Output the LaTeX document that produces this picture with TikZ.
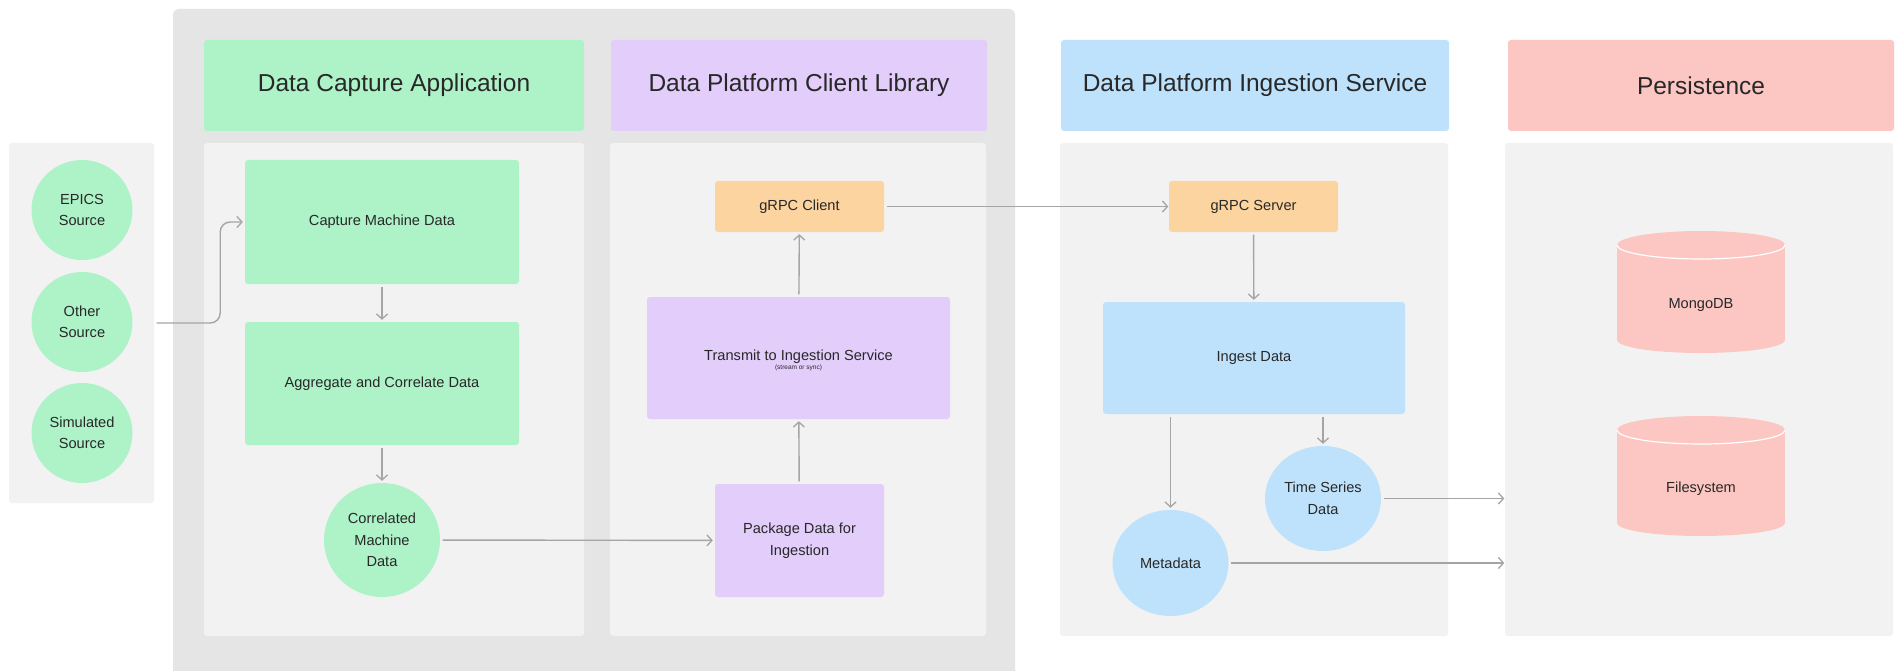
\documentclass[tikz,border=0pt]{standalone}
\usepackage{fontspec}
\setmainfont{Liberation Sans}
\usetikzlibrary{arrows.meta,shapes.geometric}

\definecolor{cgreen}{RGB}{174,242,200}
\definecolor{cpurple}{RGB}{226,205,251}
\definecolor{cblue}{RGB}{190,226,251}
\definecolor{cred}{RGB}{252,199,194}
\definecolor{corange}{RGB}{252,212,160}
\definecolor{panelgray}{RGB}{242,242,242}
\definecolor{outergray}{RGB}{229,229,229}
\definecolor{txt}{RGB}{40,40,40}
\definecolor{linegray}{RGB}{165,165,165}

\tikzset{
  hdr/.style={rectangle, rounded corners=3pt, inner sep=0pt, minimum height=91pt,
    text=txt, font=\fontsize{24.5}{29}\selectfont},
  lane/.style={rectangle, rounded corners=3pt, inner sep=0pt, fill=panelgray,
    minimum height=493pt},
  box/.style={rectangle, rounded corners=3pt, inner sep=0pt, text=txt,
    align=center, font=\fontsize{14.6}{21.5}\selectfont},
  disc/.style={ellipse, inner sep=0pt, text=txt, align=center,
    font=\fontsize{14.6}{21.5}\selectfont},
  dblabel/.style={inner sep=0pt, text=txt, font=\fontsize{14.6}{21.5}\selectfont},
  conn/.style={draw=linegray, line width=1.4pt,
    -{Straight Barb[length=5pt,width=11pt,line width=1.3pt]},
    shorten <=2.5pt, shorten >=2pt},
}

\begin{document}
\begin{tikzpicture}[x=1pt,y=-1pt]
\useasboundingbox (0,0) rectangle (1900,671);
\fill[white] (0,0) rectangle (1900,671);

% grey frame holding the capture application and the client library
\begin{scope}
  \clip (0,0) rectangle (1900,671);
  \fill[outergray, rounded corners=6pt] (173,9) rectangle (1015,690);
\end{scope}

% source panel with the three inputs
\node[lane, fill=panelgray, minimum width=145pt, minimum height=360pt] (src) at (81.5,323) {};
\node[disc, fill=cgreen, minimum width=101pt, minimum height=100pt] (epics) at (82,210) {EPICS\\Source};
\node[disc, fill=cgreen, minimum width=101pt, minimum height=100pt] (other) at (82,322) {Other\\Source};
\node[disc, fill=cgreen, minimum width=101pt, minimum height=100pt] (sim) at (82,433) {Simulated\\Source};

% column headers
\node[hdr, fill=cgreen, minimum width=380pt] (hcap) at (394,85.5) {Data Capture Application};
\node[hdr, fill=cpurple, minimum width=376pt] (hcli) at (799,85.5) {Data Platform Client Library};
\node[hdr, fill=cblue, minimum width=388pt] (hing) at (1255,85.5) {Data Platform Ingestion Service};
\node[hdr, fill=cred, minimum width=386pt] (hper) at (1701,85.5) {Persistence};

% column bodies
\node[lane, minimum width=380pt] (lcap) at (394,389.5) {};
\node[lane, minimum width=376pt] (lcli) at (798,389.5) {};
\node[lane, minimum width=388pt] (ling) at (1254,389.5) {};
\node[lane, minimum width=388pt] (lper) at (1699,389.5) {};

% data capture application
\node[box, fill=cgreen, minimum width=274pt, minimum height=124pt] (capture) at (382,222) {Capture Machine Data};
\node[box, fill=cgreen, minimum width=274pt, minimum height=123pt] (aggr) at (382,383.5) {Aggregate and Correlate Data};
\node[disc, fill=cgreen, minimum width=116pt, minimum height=114pt] (corr) at (382,540) {Correlated\\Machine\\Data};

% client library
\node[box, fill=corange, minimum width=169pt, minimum height=51pt] (client) at (799.5,206.5) {gRPC Client};
\node[box, fill=cpurple, minimum width=303pt, minimum height=122pt] (transmit) at (798.5,358) {};
\node[box, anchor=base] (transmittxt) at (798.5,360) {Transmit to Ingestion Service};
\node[inner sep=0pt, text=txt, font=\fontsize{6.5}{7}\selectfont] (transmitnote) at (798.5,368) {(stream or sync)};
\node[box, fill=cpurple, minimum width=169pt, minimum height=113pt] (package) at (799.5,540.5) {Package Data for\\Ingestion};

% ingestion service
\node[box, fill=corange, minimum width=169pt, minimum height=51pt] (server) at (1253.5,206.5) {gRPC Server};
\node[box, fill=cblue, minimum width=302pt, minimum height=112pt] (ingest) at (1254,358) {Ingest Data};
\node[disc, fill=cblue, minimum width=116pt, minimum height=106pt] (meta) at (1170.5,563) {Metadata};
\node[disc, fill=cblue, minimum width=116pt, minimum height=105pt] (series) at (1323,498.5) {Time Series\\Data};

% persistence stores
\fill[cred] (1617,245) rectangle (1785,340);
\fill[cred] (1701,340) ellipse [x radius=84pt, y radius=13pt];
\fill[cred] (1701,245) ellipse [x radius=84pt, y radius=14pt];
\draw[white, line width=1.2pt] (1617,245) arc [start angle=180, end angle=360, x radius=84pt, y radius=14pt];
\node[dblabel] (mongo) at (1701,305) {MongoDB};

\fill[cred] (1617,430) rectangle (1785,523);
\fill[cred] (1701,523) ellipse [x radius=84pt, y radius=13pt];
\fill[cred] (1701,430) ellipse [x radius=84pt, y radius=14pt];
\draw[white, line width=1.2pt] (1617,430) arc [start angle=180, end angle=360, x radius=84pt, y radius=14pt];
\node[dblabel] (fs) at (1701,489) {Filesystem};

% connectors
\draw[conn, rounded corners=10pt] (src.east) -- ([xshift=66pt]src.east) |- (capture.west);
\draw[conn] (capture) -- (aggr);
\draw[conn] (aggr) -- (corr);
\draw[conn] (corr) -- (package);
\draw[conn] (package) -- (transmit);
\draw[conn] (transmit) -- (client);
\draw[conn, shorten >=0.5pt] (client) -- (server);
\draw[conn] (server) -- (ingest);
\draw[conn] (ingest.south -| meta.north) -- (meta.north);
\draw[conn] (ingest.south -| series.north) -- (series.north);
\draw[conn, shorten >=0.5pt] (series.east) -- (series.east -| lper.west);
\draw[conn, shorten >=0.5pt] (meta.east) -- (meta.east -| lper.west);
\end{tikzpicture}
\end{document}
